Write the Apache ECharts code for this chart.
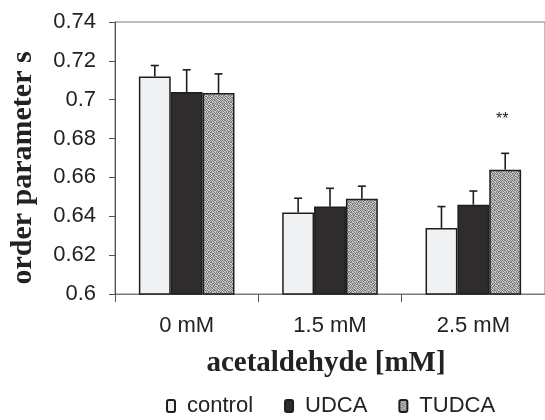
<!DOCTYPE html>
<html><head><meta charset="utf-8">
<script src="https://cdn.jsdelivr.net/npm/echarts@6/dist/echarts.min.js"></script>
<style>html,body{margin:0;padding:0;background:#fff}#c{width:545px;height:420px}</style>
</head><body><div id="c"></div>
<script>
const categories = ['0 mM', '1.5 mM', '2.5 mM'];
const seriesNames = ['control', 'UDCA', 'TUDCA'];
const controlVals = [0.712, 0.642, 0.634];
const udcaVals = [0.704, 0.645, 0.646];
const tudcaVals = [0.7035, 0.649, 0.664];
const controlErr = [0.0056, 0.0073, 0.011];
const udcaErr = [0.0114, 0.0094, 0.007];
const tudcaErr = [0.0098, 0.0065, 0.0084];
const yTicks = { min: 0.6, max: 0.74, interval: 0.02 };
const annotations = [{ series: 2, cat: 2, text: '**' }];

const values = [controlVals, udcaVals, tudcaVals];
const errs = [controlErr, udcaErr, tudcaErr];

// textured gray for TUDCA (fixed grain tile)
const tile = [
  '1010110100',
  '0101001011',
  '1100101010',
  '0011010101',
  '1010101100',
  '0101100011',
  '1001011010',
  '0110100101',
  '1010010110',
  '0101101001'
];
const pc = document.createElement('canvas');
pc.width = 10; pc.height = 10;
const pctx = pc.getContext('2d');
for (let i = 0; i < 10; i++) for (let j = 0; j < 10; j++) {
  pctx.fillStyle = tile[i][j] === '1' ? '#7c7c7c' : '#c9c9c9';
  pctx.fillRect(j, i, 1, 1);
}

const fills = ['#f0f1f3', '#2e2c2d', { image: pc, repeat: 'repeat' }];
const GAP = 0.333;
const SANS = '"Liberation Sans", Arial, sans-serif';
const SERIF = '"Liberation Serif", "Times New Roman", serif';

const chart = echarts.init(document.getElementById('c'));
const barSeries = seriesNames.map((n, i) => ({
  name: n, type: 'bar', data: values[i],
  barGap: '0%', barCategoryGap: '33.3%',
  itemStyle: { color: fills[i], borderColor: '#1e1e1e', borderWidth: 1.5 },
  z: 2
}));

const errData = [];
for (let s = 0; s < 3; s++) for (let c = 0; c < 3; c++) errData.push([c, values[s][c], errs[s][c], s]);

const errSeries = {
  type: 'custom', name: 'err', data: errData, z: 5, silent: true,
  renderItem: function (params, api) {
    const c = api.value(0), v = api.value(1), e = api.value(2), s = api.value(3);
    const band = api.size([1, 0])[0];
    const bw = band * (1 - GAP) / 3;
    const base = api.coord([c, v]);
    const x = base[0] + (s - 1) * bw;
    const top = api.coord([c, v + e])[1];
    const children = [
      { type: 'line', shape: { x1: x, y1: base[1], x2: x, y2: top }, style: { stroke: '#1e1e1e', lineWidth: 1.6 } },
      { type: 'line', shape: { x1: x - 4, y1: top, x2: x + 4, y2: top }, style: { stroke: '#1e1e1e', lineWidth: 1.6 } }
    ];
    annotations.forEach(a => {
      if (a.series === s && a.cat === c) {
        children.push({ type: 'text', style: { text: a.text, x: x - 3, y: top - 34, align: 'center', verticalAlign: 'middle', fill: '#222', font: '16px "Liberation Sans", Arial, sans-serif' } });
      }
    });
    return { type: 'group', children };
  }
};

chart.setOption({
  animation: false,
  grid: { left: 111, top: 22, width: 442, height: 272, show: true, borderColor: '#7a7a7a', borderWidth: 1, backgroundColor: 'transparent' },
  legend: {
    data: seriesNames, bottom: -2, left: 161, itemWidth: 8, itemHeight: 12, itemGap: 31,
    icon: 'roundRect',
    textStyle: { fontFamily: SANS, fontSize: 22, color: '#222', padding: [0, 0, 0, 7] }
  },
  xAxis: {
    type: 'category', data: categories,
    name: 'acetaldehyde [mM]', nameLocation: 'middle', nameGap: 55,
    nameTextStyle: { fontFamily: SERIF, fontWeight: 'bold', fontSize: 29, color: '#222', padding: [0, 8, 0, 0] },
    axisLine: { lineStyle: { color: '#7a7a7a', width: 1 } },
    axisTick: { show: true, length: 8, lineStyle: { color: '#555' } },
    axisLabel: { margin: 21, fontFamily: SANS, fontSize: 22, color: '#222' }
  },
  yAxis: {
    type: 'value', min: yTicks.min, max: yTicks.max, interval: yTicks.interval,
    name: 'order parameter s', nameLocation: 'middle', nameGap: 77, nameRotate: 90,
    nameTextStyle: { fontFamily: SERIF, fontWeight: 'bold', fontSize: 30, color: '#222', padding: [0, 20, 0, 0] },
    splitLine: { show: false },
    axisLine: { show: true, lineStyle: { color: '#555', width: 1 } },
    axisTick: { show: true, length: 6, lineStyle: { color: '#555' } },
    axisLabel: { margin: 19, fontFamily: SANS, fontSize: 22, color: '#222' }
  },
  series: [...barSeries, errSeries]
});
</script></body></html>
